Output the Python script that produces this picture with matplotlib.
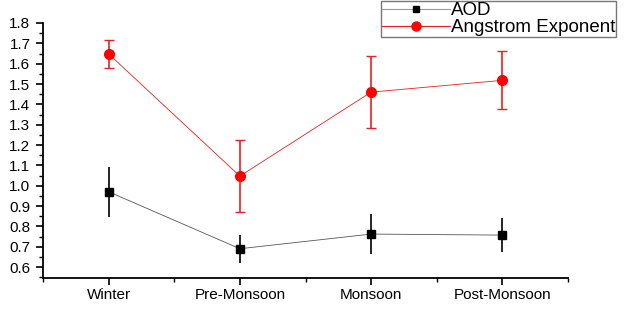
import matplotlib.pyplot as plt
from matplotlib.ticker import MultipleLocator, FixedLocator
from matplotlib.lines import Line2D

plt.rcParams['font.family'] = ['Liberation Sans', 'DejaVu Sans']

seasons = ["Winter", "Pre-Monsoon", "Monsoon", "Post-Monsoon"]
aod = [0.97, 0.69, 0.762, 0.757]
aod_err = [0.122, 0.068, 0.10, 0.085]
angstrom = [1.648, 1.047, 1.46, 1.518]
angstrom_err = [0.07, 0.176, 0.176, 0.143]

x = list(range(1, len(seasons) + 1))

fig = plt.figure(figsize=(6.24, 3.14), dpi=100)
ax = fig.add_axes([43 / 624, 36 / 314, 525 / 624, 255 / 314])

ax.errorbar(x, aod, yerr=aod_err, color='#555555', lw=0.6, marker='s', ms=6,
            mfc='black', mec='black', ecolor='black', elinewidth=1.2, capsize=0)
ax.errorbar(x, angstrom, yerr=angstrom_err, color='#e82020', lw=0.6, marker='o', ms=7,
            mfc='red', mec='red', ecolor='#e82020', elinewidth=1.2, capsize=3.5,
            capthick=1.0)

ax.set_xlim(0.5, 4.5)
ax.set_ylim(0.546, 1.8)
ax.set_xticks(x)
ax.set_xticklabels(seasons)
ax.xaxis.set_minor_locator(FixedLocator([0.5, 1.5, 2.5, 3.5, 4.5]))
ax.yaxis.set_major_locator(MultipleLocator(0.1))
ax.yaxis.set_minor_locator(MultipleLocator(0.05))
ax.yaxis.set_major_formatter(plt.FormatStrFormatter('%.1f'))
ax.tick_params(axis='both', which='major', length=5, width=1.2, labelsize=11, direction='out')
ax.tick_params(axis='x', which='major', pad=2)
ax.tick_params(axis='y', which='major', pad=4)
ax.tick_params(axis='both', which='minor', length=3, width=1.0, direction='out')
for s in ['top', 'right']:
    ax.spines[s].set_visible(False)
for s in ['left', 'bottom']:
    ax.spines[s].set_linewidth(1.3)

handles = [
    Line2D([], [], color='#999999', lw=0.8, marker='s', ms=4.5, mfc='black', mec='black'),
    Line2D([], [], color='#e82020', lw=0.8, marker='o', ms=6.5, mfc='red', mec='red'),
]
leg = fig.legend(handles, ['AOD', 'Angstrom Exponent'], loc='upper right',
                 bbox_to_anchor=(616 / 624, 1 - 1 / 314), fontsize=13.5,
                 frameon=True, fancybox=False, borderpad=0.05, labelspacing=0.0,
                 handlelength=3.6, handletextpad=0.05, borderaxespad=0)
leg.get_frame().set_edgecolor('#555555')
leg.get_frame().set_linewidth(1.0)

fig.savefig('out.png', dpi=100)
